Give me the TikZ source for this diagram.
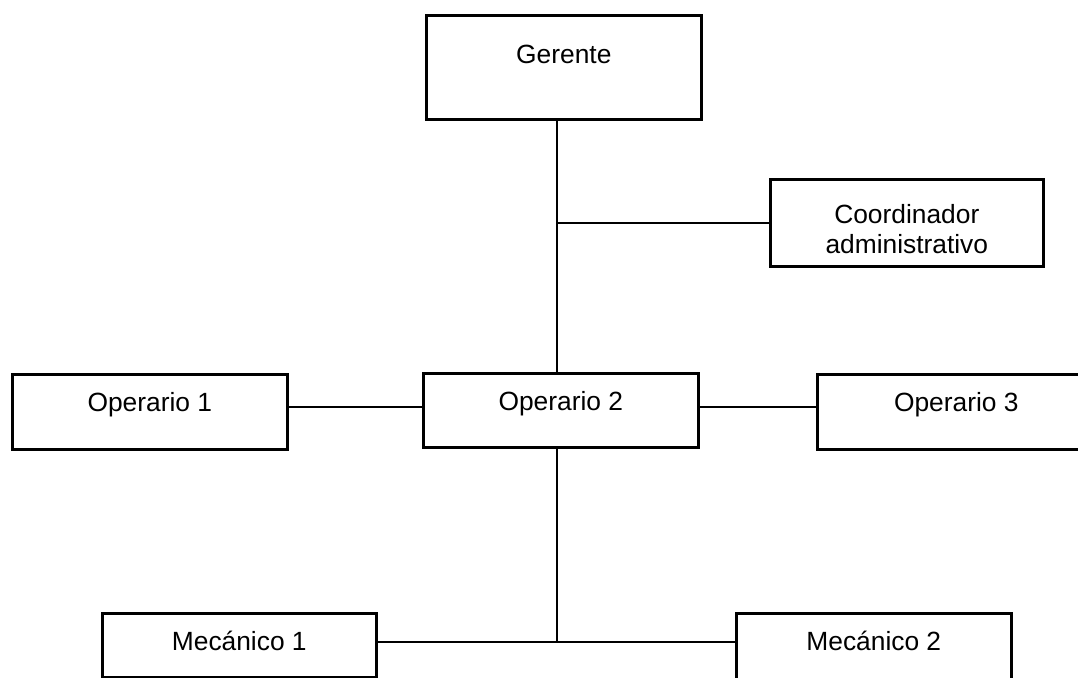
\documentclass[tikz,border=0pt]{standalone}
\usepackage{fontspec}
\setmainfont{Liberation Sans}

\tikzset{
  box/.style={draw, line width=1.5pt, inner sep=0pt, anchor=north west,
    minimum width=5.5cm, font=\fontsize{15}{15.5}\selectfont},
  link/.style={line width=0.8pt}
}

\begin{document}
\begin{tikzpicture}[x=0.02cm, y=-0.02cm]
  \useasboundingbox (0,0) rectangle (1078,678);

  % Boxes
  \node[box, minimum height=2.08cm, text height=27.21pt, text depth=31.75pt] (gerente) at (425,14) {Gerente};
  \node[box, font=\fontsize{15}{17}\selectfont, minimum width=5.46cm, minimum height=1.74cm,
    text height=24.94pt, text depth=24.38pt] (coord) at (769,178)
    {\begin{tabular}[t]{@{}c@{}}Coordinador\\administrativo\end{tabular}};
  \node[box, minimum height=1.5cm, text height=20.98pt, text depth=21.54pt] (op1) at (11,373) {Operario 1};
  \node[box, minimum height=1.48cm, text height=20.98pt, text depth=20.97pt] (op2) at (422,372) {Operario 2};
  \node[box, minimum width=5.56cm, minimum height=1.5cm, text height=20.98pt, text depth=21.54pt] (op3) at (816,373) {Operario 3};
  \node[box, minimum width=5.48cm, minimum height=1.28cm, text height=20.98pt, text depth=15.30pt] (mec1) at (101,612) {Mecánico 1};
  \node[box, minimum height=1.4cm, text height=20.98pt, text depth=18.70pt] (mec2) at (735,612) {Mecánico 2};

  % Junctions
  \coordinate (jc) at (557,223);
  \coordinate (jo) at (557,407);
  \coordinate (jm) at (557,642);

  % Connectors
  \draw[link] (gerente.south -| jc) -- (op2.north -| jc);
  \draw[link] (jc) -- (coord.west |- jc);
  \draw[link] (op1.east |- jo) -- (op2.west |- jo);
  \draw[link] (op2.east |- jo) -- (op3.west |- jo);
  \draw[link] (op2.south -| jm) -- (jm);
  \draw[link] (mec1.east |- jm) -- (mec2.west |- jm);
\end{tikzpicture}
\end{document}
